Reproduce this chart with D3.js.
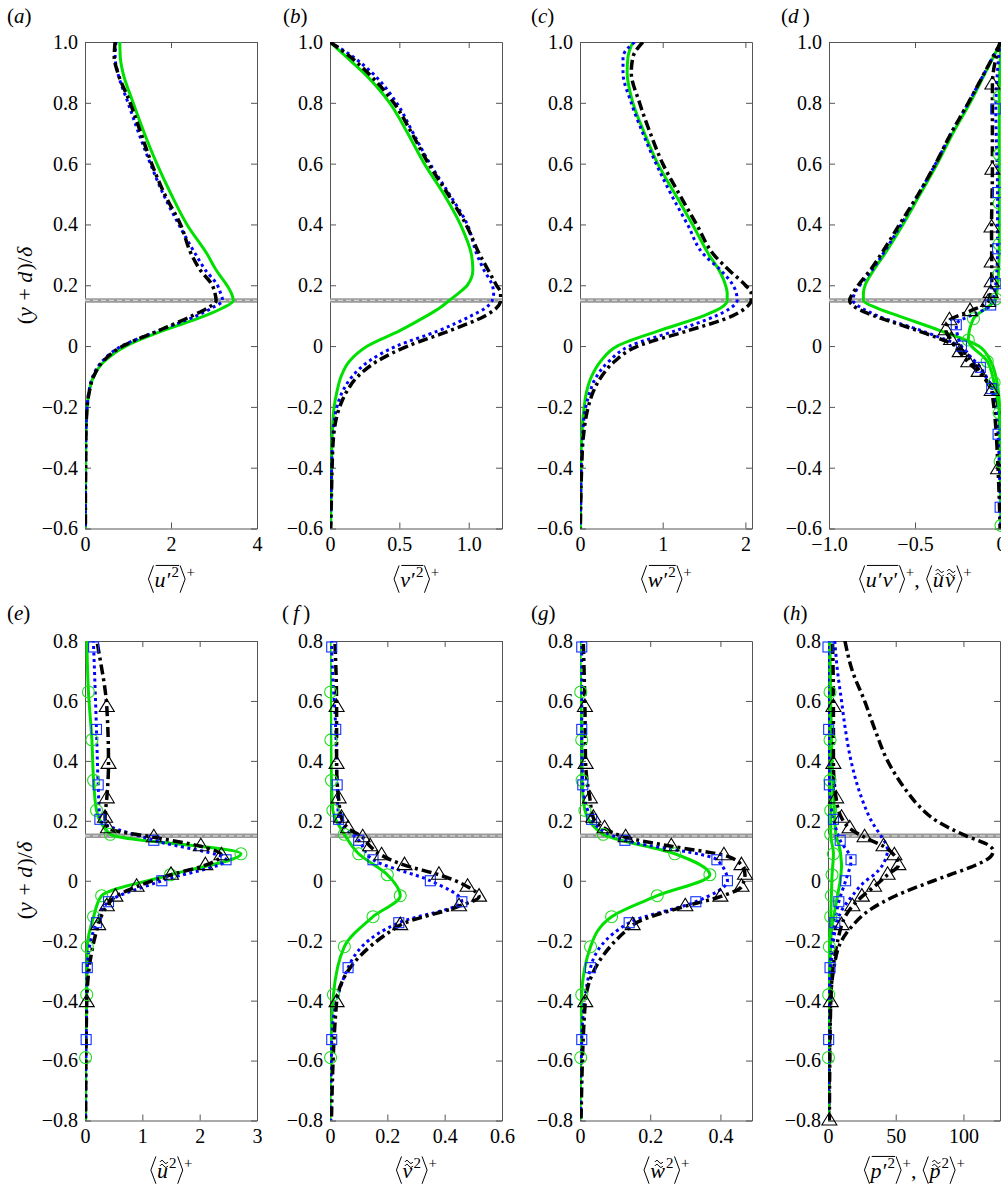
<!DOCTYPE html>
<html>
<head>
<meta charset="utf-8">
<title>Stress profiles</title>
<script src="https://cdn.jsdelivr.net/npm/d3@7"></script>
<style>
  body { margin: 0; background: #fff; }
  svg { display: block; font-family: "Liberation Serif", Tinos, "Times New Roman", "DejaVu Serif", serif; }
</style>
</head>
<body>
<script>
// ---- data ----
// top row: common y grid (y+d)/delta
const yTop = [-0.6,-0.5,-0.4,-0.3,-0.2,-0.15,-0.1,-0.05,0,0.05,0.1,0.125,0.15,0.175,0.2,0.25,0.3,0.4,0.5,0.6,0.7,0.8,0.9,0.95,1.0];

const aGreen = [0.01,0.01,0.015,0.02,0.05,0.1,0.2,0.45,0.95,1.8,2.8,3.2,3.45,3.4,3.3,3.05,2.85,2.37,2.0,1.67,1.38,1.12,0.88,0.82,0.81];
const aBlue  = [0.01,0.01,0.015,0.02,0.05,0.09,0.18,0.4,0.85,1.7,2.6,2.95,3.2,3.15,3.08,2.8,2.58,2.18,1.82,1.52,1.25,1.0,0.76,0.7,0.72];
const aBlack = [0.01,0.01,0.015,0.02,0.05,0.1,0.2,0.42,0.88,1.7,2.5,2.85,3.05,3.02,2.96,2.68,2.48,2.22,1.85,1.55,1.3,1.05,0.76,0.68,0.7];

const bGreen = [0.005,0.007,0.01,0.015,0.03,0.05,0.08,0.14,0.27,0.5,0.7,0.79,0.86,0.93,0.99,1.03,1.02,0.94,0.82,0.68,0.56,0.43,0.24,0.12,0.0];
const bBlue  = [0.005,0.008,0.012,0.02,0.05,0.09,0.16,0.28,0.48,0.78,1.02,1.12,1.17,1.18,1.17,1.11,1.06,0.99,0.86,0.72,0.6,0.48,0.3,0.17,0.0];
const bBlack = [0.005,0.01,0.015,0.025,0.07,0.12,0.2,0.34,0.56,0.86,1.12,1.2,1.23,1.23,1.2,1.14,1.08,0.98,0.85,0.71,0.59,0.46,0.27,0.15,0.0];

const cGreen = [0.005,0.007,0.01,0.02,0.05,0.08,0.14,0.25,0.45,0.95,1.5,1.7,1.78,1.78,1.76,1.68,1.56,1.36,1.15,0.94,0.78,0.64,0.57,0.58,0.64];
const cBlue  = [0.005,0.01,0.015,0.03,0.07,0.12,0.2,0.35,0.6,1.15,1.65,1.82,1.9,1.89,1.85,1.7,1.5,1.3,1.1,0.92,0.76,0.62,0.52,0.52,0.66];
const cBlack = [0.005,0.01,0.02,0.04,0.1,0.16,0.26,0.42,0.7,1.3,1.85,2.0,2.07,2.07,2.0,1.8,1.62,1.41,1.2,1.0,0.85,0.72,0.62,0.64,0.76];

const dGreen = [0,0,0,-0.003,-0.008,-0.015,-0.03,-0.06,-0.13,-0.35,-0.6,-0.72,-0.8,-0.8,-0.79,-0.74,-0.68,-0.57,-0.47,-0.37,-0.28,-0.18,-0.09,-0.045,0];
const dBlue  = [0,0,0,-0.005,-0.015,-0.04,-0.09,-0.16,-0.24,-0.46,-0.72,-0.81,-0.86,-0.85,-0.82,-0.75,-0.69,-0.58,-0.48,-0.38,-0.29,-0.19,-0.095,-0.048,0];
const dBlack = [0,0,0,-0.005,-0.015,-0.05,-0.1,-0.17,-0.26,-0.48,-0.74,-0.84,-0.88,-0.86,-0.83,-0.76,-0.7,-0.59,-0.48,-0.38,-0.29,-0.19,-0.095,-0.048,0];

// curves with markers: y positions (first/last are line ends)
const triY  = [1.0,0.86,0.58,0.39,0.275,0.21,0.175,0.145,0.115,0.085,0.052,0.02,-0.02,-0.053,-0.085,-0.148,-0.405,-0.8];
const sqY   = [1.0,0.78,0.505,0.32,0.205,0.135,0.07,0.0,-0.07,-0.14,-0.29,-0.53,-0.8];
const circY = [1.0,0.82,0.63,0.47,0.335,0.235,0.155,0.09,0.02,-0.05,-0.12,-0.22,-0.38,-0.59,-0.8];
const triMark  = triY.slice(1, -1);
const triMarkH = triY.slice(1);
const sqMark   = sqY.slice(1, -1);
const circMark = circY.slice(1, -1);

const dTri  = [-0.005,-0.05,-0.05,-0.055,-0.054,-0.054,-0.06,-0.075,-0.18,-0.30,-0.32,-0.29,-0.24,-0.19,-0.13,-0.054,-0.017,0];
const dSq   = [-0.005,-0.03,-0.02,-0.02,-0.03,-0.06,-0.26,-0.23,-0.12,-0.054,-0.017,-0.005,0];
const dCirc = [0,-0.01,-0.01,-0.01,-0.01,-0.015,-0.03,-0.16,-0.19,-0.08,-0.04,-0.01,-0.005,0,0];

const eTri  = [0.12,0.17,0.38,0.41,0.38,0.35,0.4,1.2,2.02,2.38,2.1,1.5,0.9,0.53,0.38,0.23,0.03,0.01];
const eSq   = [0.1,0.15,0.2,0.23,0.26,1.2,2.46,1.34,0.41,0.2,0.04,0.02,0.01];
const eCirc = [0.02,0.03,0.06,0.12,0.15,0.2,0.44,2.72,1.49,0.29,0.15,0.04,0.03,0.01,0.01];

const fTri  = [0.01,0.015,0.023,0.023,0.03,0.04,0.063,0.114,0.14,0.18,0.26,0.38,0.48,0.52,0.45,0.245,0.023,0.005];
const fSq   = [0.005,0.006,0.02,0.025,0.03,0.1,0.15,0.35,0.46,0.24,0.063,0.006,0.003];
const fCirc = [0,0,0.002,0.003,0.005,0.01,0.05,0.1,0.2,0.245,0.15,0.05,0.012,0.002,0];

const gTri  = [0.005,0.008,0.014,0.016,0.028,0.038,0.07,0.13,0.26,0.41,0.46,0.47,0.46,0.4,0.3,0.15,0.015,0.003];
const gSq   = [0.003,0.005,0.005,0.008,0.033,0.128,0.39,0.42,0.33,0.14,0.03,0.005,0.002];
const gCirc = [0,0,0.002,0.005,0.006,0.014,0.066,0.27,0.37,0.22,0.09,0.03,0.005,0.002,0];

// panel h: p'^2 (no markers) on its own grid
const yBot = [-0.8,-0.6,-0.4,-0.3,-0.2,-0.15,-0.1,-0.05,0,0.02,0.05,0.08,0.1,0.12,0.15,0.2,0.25,0.3,0.4,0.5,0.6,0.7,0.8];
const hBlackP = [0.5,1,2,4,10,18,30,50,78,90,108,120,122,118,102,80,67,58,44,35,27,18,12.5];
const hBlueP  = [0.2,0.5,1,2,4,6,10,18,28,34,40,43,44,43,39,32,27,23,17,13,10,7,5];
const hGreenP = [0.3,0.5,1,1.5,2,3,5,7,9,9.5,10,9.5,9,8,6,5,4.5,4,3,2.5,2,1.5,1];
const hTri  = [2,3,4,4,6,10,16,27,41,49,52,44,34,25,18,10,2,1];
const hSq   = [0,0,0.5,1,4,9,17,13,8,5,1.5,0.5,0.3];
const hCirc = [1,1.5,1.5,1.5,1.5,2,2,4,3,2.5,2,1,0.5,0.3,0.3];

const yTicksTop = [-0.6,-0.4,-0.2,0,0.2,0.4,0.6,0.8,1.0];
const yTicksBot = [-0.8,-0.6,-0.4,-0.2,0,0.2,0.4,0.6,0.8];
const refLine = 0.15;

// ---- drawing ----
const FONT = '"Liberation Serif", Tinos, "Times New Roman", "DejaVu Serif", serif';
const AXC = '#555';
const svg = d3.select('body').append('svg').attr('width', 1001).attr('height', 1189)
  .attr('font-family', FONT);

const STY = {
  green: {stroke: '#00e000', w: 3, dash: null, mk: '#22dd22'},
  blue:  {stroke: '#0000ff', w: 3, dash: '3,3.5', mk: '#1030ff'},
  black: {stroke: '#000', w: 3.5, dash: '10,4,3,4', mk: '#000'}
};
const f1 = d => d === 0 ? '0' : d3.format('.1f')(d);
const fInt = d3.format('d');

function mathText(parent, cx, by, pieces, size) {
  const g = parent.append('g').attr('font-family', FONT);
  let x = 0;
  const boxes = [];
  pieces.forEach(p => {
    const x0 = x;
    let w;
    if (p.br) {
      w = size * 0.34;
      const t = -0.98 * size, b = 0.26 * size, m = (t + b) / 2;
      const d = p.br === 'l'
        ? `M${x + w - size * 0.05},${t}L${x + size * 0.06},${m}L${x + w - size * 0.05},${b}`
        : `M${x + size * 0.05},${t}L${x + w - size * 0.06},${m}L${x + size * 0.05},${b}`;
      g.append('path').attr('d', d).attr('fill', 'none').attr('stroke', '#000').attr('stroke-width', 1);
    } else {
      const fs = p.sup ? size * 0.68 : size;
      const t = g.append('text').attr('x', x).attr('y', p.sup ? -size * 0.45 : 0)
        .attr('font-size', fs).attr('font-style', p.i ? 'italic' : 'normal').text(p.s);
      w = t.node().getComputedTextLength() + (p.i ? size * 0.05 : 0);
    }
    boxes.push({x0: x0, x1: x0 + w, p: p});
    x += w;
  });
  let i = 0;
  while (i < boxes.length) {
    if (boxes[i].p.ol) {
      let j = i;
      while (j + 1 < boxes.length && boxes[j + 1].p.ol) j++;
      g.append('line').attr('x1', boxes[i].x0 + size * 0.05).attr('x2', boxes[j].x1)
        .attr('y1', -size * 0.98).attr('y2', -size * 0.98).attr('stroke', '#000').attr('stroke-width', 1);
      i = j + 1;
    } else i++;
  }
  boxes.filter(b => b.p.tt).forEach(b => {
    const c = (b.x0 + b.x1) / 2 + size * 0.04;
    const w = size * 0.36, h = size * 0.07;
    [-0.62, -0.8].forEach(yy => {
      g.append('path')
        .attr('d', `M${c - w / 2},${yy * size + h} q${w / 4},${-h * 2} ${w / 2},0 t${w / 2},0`)
        .attr('fill', 'none').attr('stroke', '#000').attr('stroke-width', 1);
    });
  });
  g.attr('transform', `translate(${cx - x / 2},${by})`);
  return g;
}

const P = (s, o) => Object.assign({s: s}, o || {});
const L = {br: 'l'}, R = {br: 'r'};
const plus = P('+', {sup: 1});
const comma = P(',\u00a0');

function drawPanel(cfg, k) {
  const x = d3.scaleLinear().domain(cfg.xdom).range(cfg.xr);
  const y = d3.scaleLinear().domain(cfg.ydom).range(cfg.yr);
  const g = svg.append('g');
  const id = 'clip' + k;
  svg.append('clipPath').attr('id', id).append('rect')
    .attr('x', cfg.xr[0]).attr('y', cfg.yr[1])
    .attr('width', cfg.xr[1] - cfg.xr[0]).attr('height', cfg.yr[0] - cfg.yr[1]);

  const ax = (gen, tr) => {
    const a = g.append('g').attr('transform', tr).call(gen);
    a.attr('font-size', 20).attr('font-family', FONT);
    a.selectAll('path, line').attr('stroke', AXC);
    a.selectAll('text').attr('fill', '#000');
    return a;
  };
  const none = () => '';
  ax(d3.axisBottom(x).tickValues(cfg.xt).tickFormat(cfg.xf).tickSize(-6).tickSizeOuter(0).tickPadding(8), `translate(0,${cfg.yr[0]})`);
  ax(d3.axisTop(x).tickValues(cfg.xt).tickFormat(none).tickSize(-6).tickSizeOuter(0), `translate(0,${cfg.yr[1]})`);
  ax(d3.axisLeft(y).tickValues(cfg.yt).tickFormat(f1).tickSize(-6).tickSizeOuter(0).tickPadding(7), `translate(${cfg.xr[0]},0)`);
  ax(d3.axisRight(y).tickValues(cfg.yt).tickFormat(none).tickSize(-6).tickSizeOuter(0), `translate(${cfg.xr[1]},0)`);

  // reference line at (y+d)/delta = 0.15
  g.append('line').attr('x1', cfg.xr[0]).attr('x2', cfg.xr[1]).attr('y1', y(refLine)).attr('y2', y(refLine))
    .attr('stroke', '#9a9a9a').attr('stroke-width', 4.5);
  g.append('line').attr('x1', cfg.xr[0]).attr('x2', cfg.xr[1]).attr('y1', y(refLine)).attr('y2', y(refLine))
    .attr('stroke', '#d6d6d6').attr('stroke-width', 1.3).attr('stroke-dasharray', '5,3');

  const line = d3.line().x(d => x(d[1])).y(d => y(d[0])).curve(d3.curveMonotoneY);
  const plot = g.append('g').attr('clip-path', `url(#${id})`);
  const mg = g.append('g');
  cfg.series.forEach(s => {
    const st = STY[s.st];
    const pts = s.ys.map((v, i) => [v, s.xs[i]]).sort((a, b) => b[0] - a[0]);
    plot.append('path').attr('d', line(pts)).attr('fill', 'none')
      .attr('stroke', st.stroke).attr('stroke-width', st.w)
      .attr('stroke-dasharray', st.dash);
    if (s.mk) {
      const mp = pts.filter(d => s.mset.includes(d[0]) && d[0] >= cfg.ydom[0] - 1e-9 && d[0] <= cfg.ydom[1] + 1e-9);
      const sel = mg.selectAll(null).data(mp);
      if (s.mk === 'tri') {
        sel.enter().append('path').attr('d', 'M0,-8L7.5,4.5L-7.5,4.5Z')
          .attr('transform', d => `translate(${x(d[1])},${y(d[0])})`);
      } else if (s.mk === 'sq') {
        sel.enter().append('rect').attr('width', 10).attr('height', 10)
          .attr('x', d => x(d[1]) - 5).attr('y', d => y(d[0]) - 5);
      } else {
        sel.enter().append('circle').attr('r', 6).attr('cx', d => x(d[1])).attr('cy', d => y(d[0]));
      }
      mg.selectAll('*').filter(function() { return !this.getAttribute('stroke'); })
        .attr('fill', 'none').attr('stroke', st.mk).attr('stroke-width', 1.1);
    }
  });

  // panel tag
  const tag = g.append('text').attr('x', cfg.tagX).attr('y', cfg.tagY).attr('font-size', 21);
  tag.append('tspan').text('(');
  tag.append('tspan').attr('font-style', 'italic').text(cfg.tag);
  tag.append('tspan').text(')');

  mathText(g, (cfg.xr[0] + cfg.xr[1]) / 2, cfg.labY, cfg.xlab, 22);
}

const topRow = {ydom: [-0.6, 1.0], yr: [528.5, 42], yt: yTicksTop, tagY: 23, labY: 587};
const botRow = {ydom: [-0.8, 0.8], yr: [1120.5, 641], yt: yTicksBot, tagY: 620, labY: 1178};

const panels = [
  Object.assign({}, topRow, {xdom: [0, 4], xr: [85, 257], xt: [0, 2, 4], xf: fInt, tag: 'a', tagX: 7,
    xlab: [L, P('u', {i: 1, ol: 1}), P('\u2032', {ol: 1}), P('2', {sup: 1, ol: 1}), R, plus],
    series: [{ys: yTop, xs: aGreen, st: 'green'}, {ys: yTop, xs: aBlue, st: 'blue'}, {ys: yTop, xs: aBlack, st: 'black'}]}),
  Object.assign({}, topRow, {xdom: [0, 1.24], xr: [330, 502], xt: [0, 0.5, 1.0], xf: f1, tag: 'b', tagX: 283,
    xlab: [L, P('v', {i: 1, ol: 1}), P('\u2032', {ol: 1}), P('2', {sup: 1, ol: 1}), R, plus],
    series: [{ys: yTop, xs: bGreen, st: 'green'}, {ys: yTop, xs: bBlue, st: 'blue'}, {ys: yTop, xs: bBlack, st: 'black'}]}),
  Object.assign({}, topRow, {xdom: [0, 2.08], xr: [580, 752], xt: [0, 1, 2], xf: fInt, tag: 'c', tagX: 531,
    xlab: [L, P('w', {i: 1, ol: 1}), P('\u2032', {ol: 1}), P('2', {sup: 1, ol: 1}), R, plus],
    series: [{ys: yTop, xs: cGreen, st: 'green'}, {ys: yTop, xs: cBlue, st: 'blue'}, {ys: yTop, xs: cBlack, st: 'black'}]}),
  Object.assign({}, topRow, {xdom: [-1, 0], xr: [829, 1001], xt: [-1, -0.5, 0], xf: f1, tag: 'd\u2009', tagX: 781,
    xlab: [L, P('u', {i: 1, ol: 1}), P('\u2032', {ol: 1}), P('v', {i: 1, ol: 1}), P('\u2032', {ol: 1}), R, plus, comma,
           L, P('u', {i: 1, tt: 1}), P('v', {i: 1, tt: 1}), R, plus],
    series: [{ys: yTop, xs: dGreen, st: 'green'}, {ys: yTop, xs: dBlue, st: 'blue'}, {ys: yTop, xs: dBlack, st: 'black'},
             {ys: circY, xs: dCirc, st: 'green', mk: 'circ', mset: circMark},
             {ys: sqY, xs: dSq, st: 'blue', mk: 'sq', mset: sqMark},
             {ys: triY, xs: dTri, st: 'black', mk: 'tri', mset: triMark}]}),
  Object.assign({}, botRow, {xdom: [0, 3], xr: [85, 257], xt: [0, 1, 2, 3], xf: fInt, tag: 'e', tagX: 7,
    xlab: [L, P('u', {i: 1, tt: 1}), P('2', {sup: 1}), R, plus],
    series: [{ys: circY, xs: eCirc, st: 'green', mk: 'circ', mset: circMark},
             {ys: sqY, xs: eSq, st: 'blue', mk: 'sq', mset: sqMark},
             {ys: triY, xs: eTri, st: 'black', mk: 'tri', mset: triMark}]}),
  Object.assign({}, botRow, {xdom: [0, 0.6], xr: [330, 502], xt: [0, 0.2, 0.4, 0.6], xf: f1, tag: '\u2009f\u2009', tagX: 282,
    xlab: [L, P('v', {i: 1, tt: 1}), P('2', {sup: 1}), R, plus],
    series: [{ys: circY, xs: fCirc, st: 'green', mk: 'circ', mset: circMark},
             {ys: sqY, xs: fSq, st: 'blue', mk: 'sq', mset: sqMark},
             {ys: triY, xs: fTri, st: 'black', mk: 'tri', mset: triMark}]}),
  Object.assign({}, botRow, {xdom: [0, 0.49], xr: [580, 752], xt: [0, 0.2, 0.4], xf: f1, tag: 'g', tagX: 531,
    xlab: [L, P('w', {i: 1, tt: 1}), P('2', {sup: 1}), R, plus],
    series: [{ys: circY, xs: gCirc, st: 'green', mk: 'circ', mset: circMark},
             {ys: sqY, xs: gSq, st: 'blue', mk: 'sq', mset: sqMark},
             {ys: triY, xs: gTri, st: 'black', mk: 'tri', mset: triMark}]}),
  Object.assign({}, botRow, {xdom: [0, 127], xr: [828, 1000], xt: [0, 50, 100], xf: fInt, tag: 'h', tagX: 783,
    xlab: [L, P('p', {i: 1, ol: 1}), P('\u2032', {ol: 1}), P('2', {sup: 1, ol: 1}), R, plus, comma,
           L, P('p', {i: 1, tt: 1}), P('2', {sup: 1}), R, plus],
    series: [{ys: yBot, xs: hGreenP, st: 'green'}, {ys: yBot, xs: hBlueP, st: 'blue'}, {ys: yBot, xs: hBlackP, st: 'black'},
             {ys: circY, xs: hCirc, st: 'green', mk: 'circ', mset: circMark},
             {ys: sqY, xs: hSq, st: 'blue', mk: 'sq', mset: sqMark},
             {ys: triY, xs: hTri, st: 'black', mk: 'tri', mset: triMarkH}]})
];

panels.forEach((p, k) => drawPanel(p, k));

// y-axis titles
const yLab = [P('('), P('y', {i: 1}), P('\u00a0+\u00a0'), P('d', {i: 1}), P(')/'), P('\u03b4', {i: 1})];
[285, 880].forEach(cy => {
  const g = svg.append('g').attr('transform', `translate(32,${cy}) rotate(-90)`);
  mathText(g, 0, 0, yLab, 22);
});
</script>
</body>
</html>
